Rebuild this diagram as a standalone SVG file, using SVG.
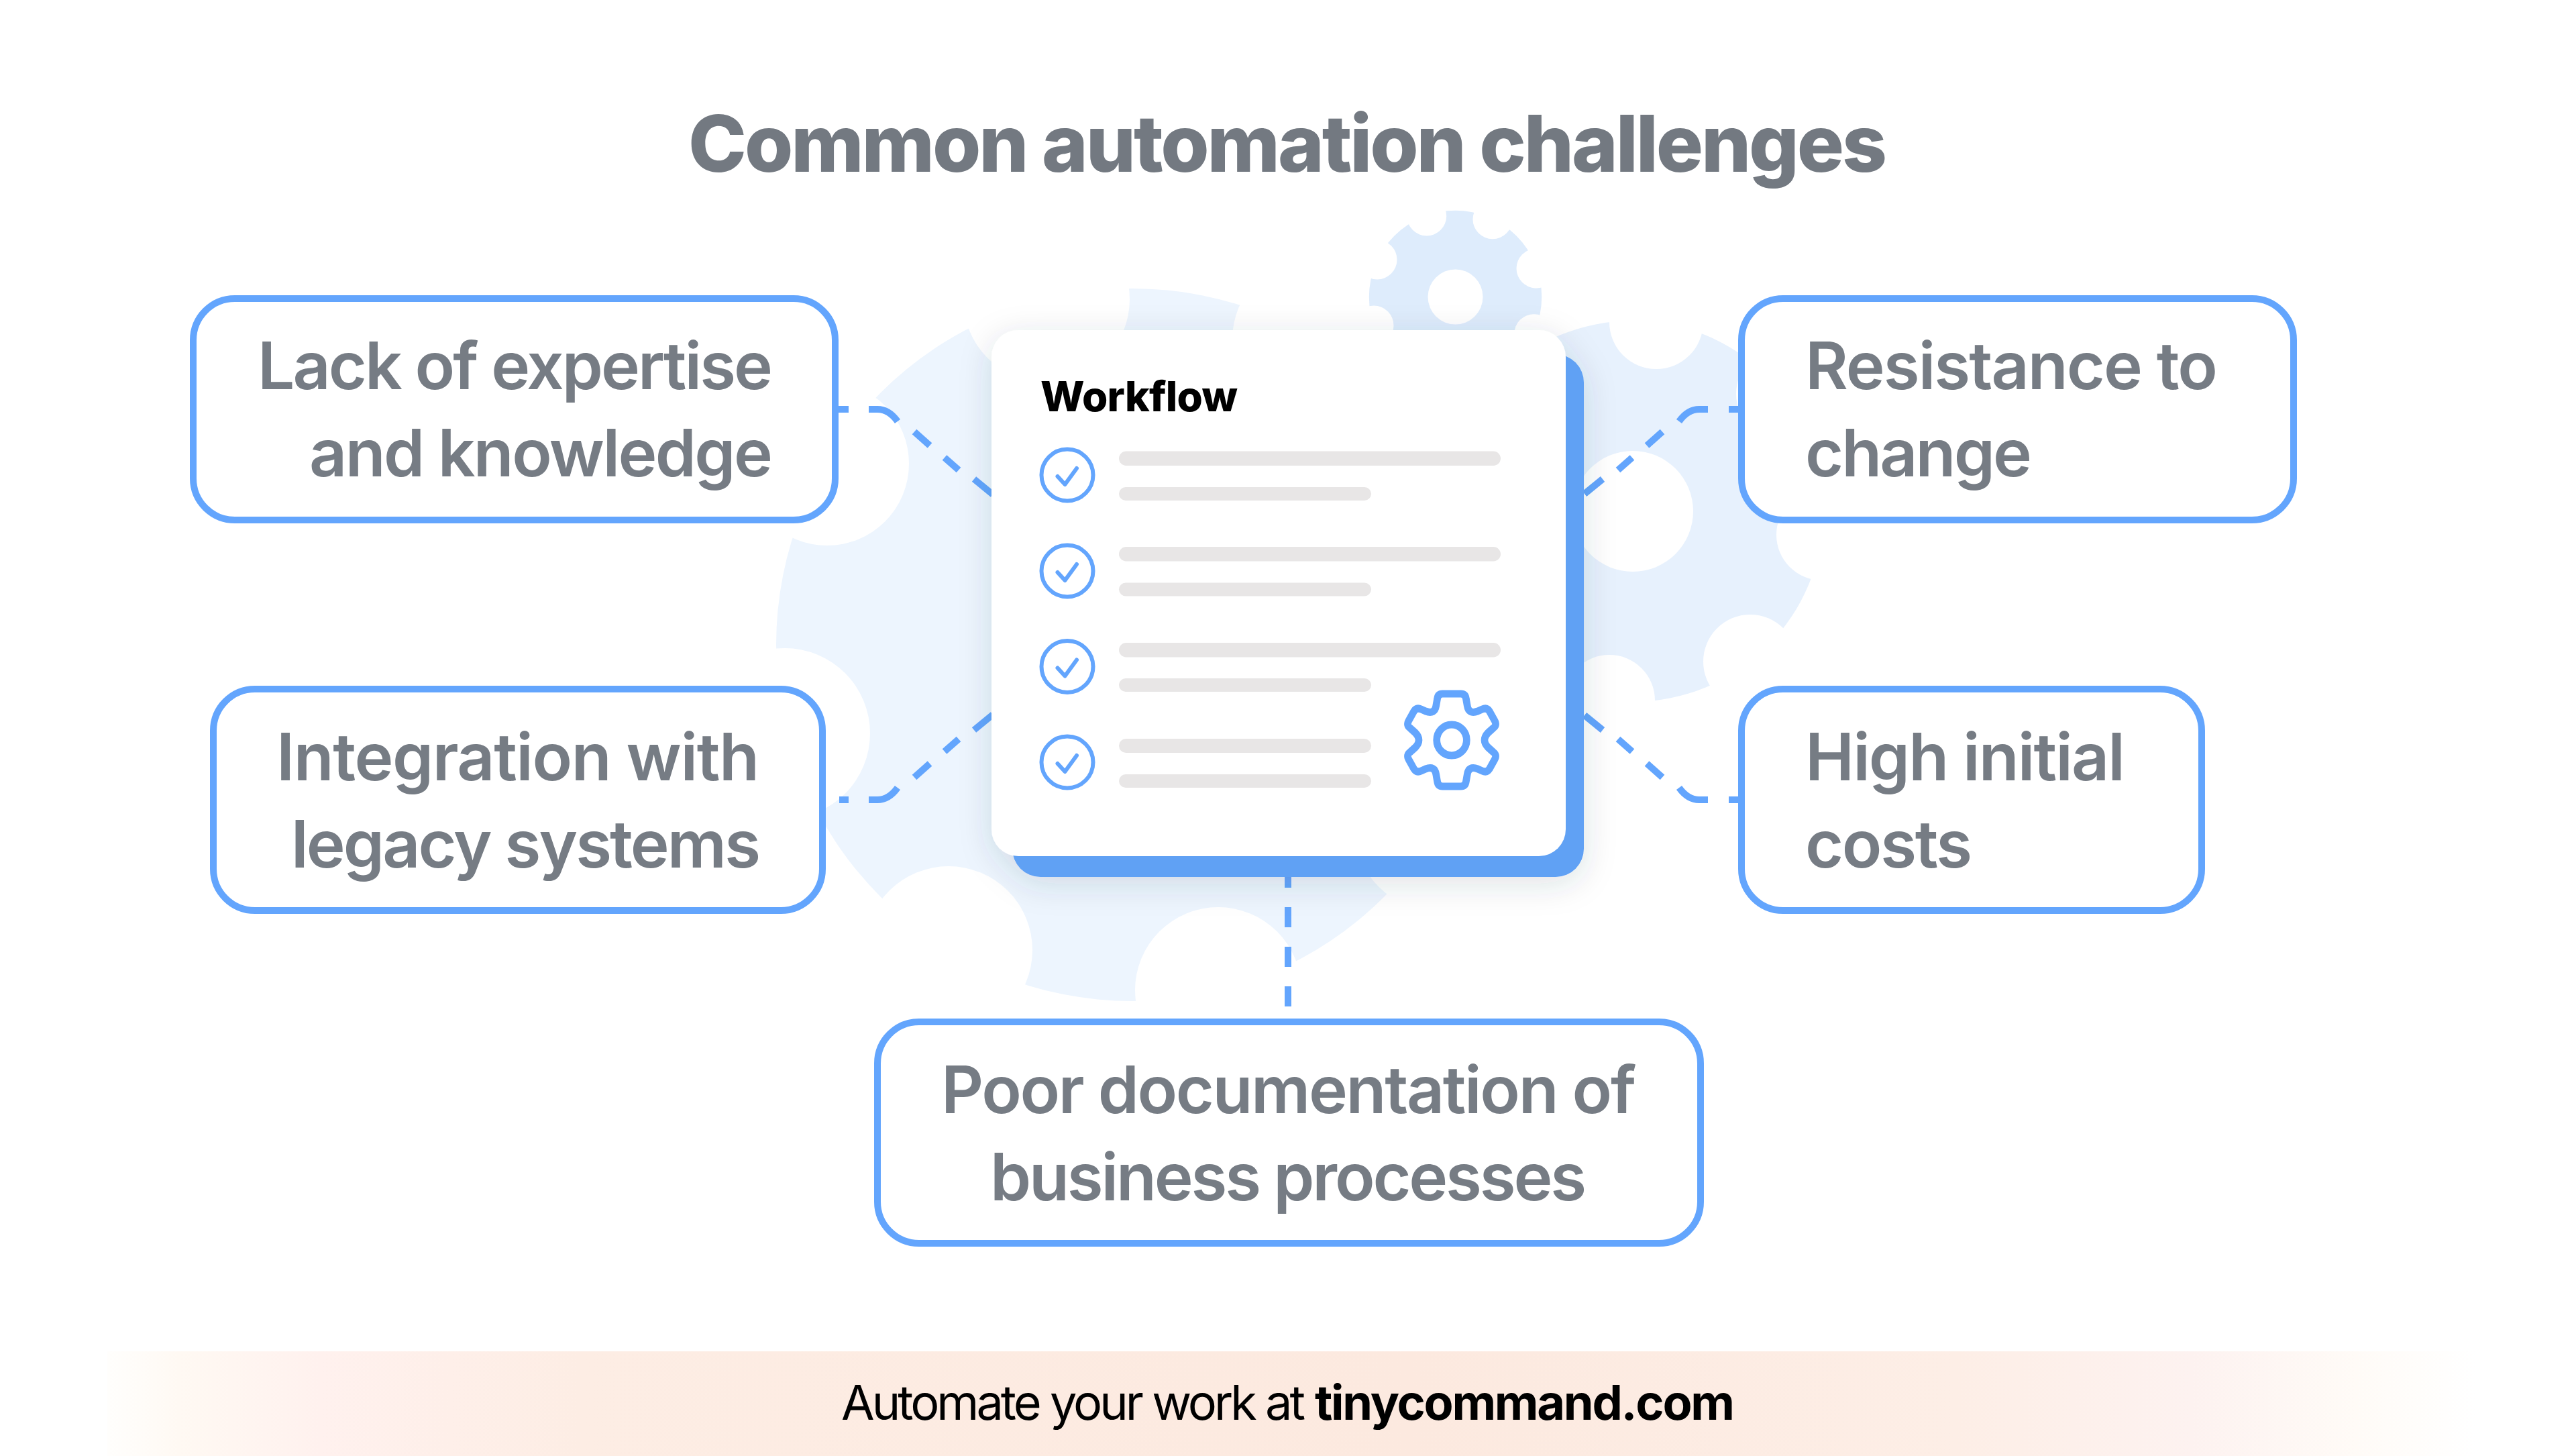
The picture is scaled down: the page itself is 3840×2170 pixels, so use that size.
<svg xmlns="http://www.w3.org/2000/svg" width="3840" height="2170" viewBox="0 0 3840 2170">
<style>
.t{font-family:"Inter","Liberation Sans",sans-serif}
.lab{font-family:"Inter","Liberation Sans",sans-serif;font-size:98px;font-weight:600;fill:#767c84}
.box{fill:#fff;stroke:#63a5fd;stroke-width:10}
.conn{fill:none;stroke:#63a5fd;stroke-width:10}
.bar{fill:#e8e6e6}
.chk{fill:none;stroke:#63a5fd;stroke-width:6}
.tick{fill:none;stroke:#63a5fd;stroke-width:6;stroke-linecap:round;stroke-linejoin:round}
.w{fill:#fff}
</style>
<defs>
<linearGradient id="band" gradientUnits="userSpaceOnUse" x1="160" y1="0" x2="3690" y2="0">
<stop offset="0" stop-color="#fffdfa" stop-opacity="0.6"/>
<stop offset="0.03" stop-color="#fff9f3"/>
<stop offset="0.09" stop-color="#fff1ee"/>
<stop offset="0.2" stop-color="#fdede4"/>
<stop offset="0.55" stop-color="#fce9df"/>
<stop offset="0.78" stop-color="#fdeee6"/>
<stop offset="0.88" stop-color="#fdf2f0"/>
<stop offset="0.95" stop-color="#fffbf7"/>
<stop offset="1" stop-color="#ffffff"/>
</linearGradient>
<filter id="sh" x="-20%" y="-20%" width="140%" height="140%">
<feDropShadow dx="0" dy="10" stdDeviation="24" flood-color="#2a3a55" flood-opacity="0.15"/>
</filter>
</defs>
<rect width="3840" height="2170" fill="#fff"/>
<rect id="footer-band" x="160" y="2014" width="3530" height="156" fill="url(#band)"/>
<g id="gears">
<g id="gear-left"><circle cx="1688" cy="961" r="531" fill="#edf5fe"/>
<g class="w"><circle cx="1233" cy="691" r="122"/><circle cx="1170" cy="1093" r="127"/><circle cx="1414" cy="1416" r="125"/><circle cx="1816" cy="1476" r="124"/><circle cx="1560" cy="446" r="124"/><circle cx="1961" cy="506" r="124"/><circle cx="2143" cy="1234" r="124"/></g></g>
<g id="gear-right"><circle cx="2434" cy="762" r="284" fill="#e7f1fd"/>
<g class="w"><circle cx="2469" cy="480" r="70"/><circle cx="2658" cy="587" r="70"/><circle cx="2716" cy="797" r="68"/><circle cx="2609" cy="986" r="70"/><circle cx="2399" cy="1044" r="68"/><circle cx="2434" cy="762" r="90"/></g></g>
<g id="gear-top"><circle cx="2169.5" cy="442.5" r="128.7" fill="#deecfc"/>
<g class="w"><circle cx="2126.7" cy="322" r="29.5"/><circle cx="2225" cy="326.7" r="29.5"/><circle cx="2290" cy="400" r="29.5"/><circle cx="2286.7" cy="497.7" r="29.5"/><circle cx="2053" cy="387" r="29.5"/><circle cx="2048" cy="485" r="29.5"/><circle cx="2169.5" cy="442.5" r="41"/></g></g>
</g>
<text id="title" class="t" x="1026" y="256" font-size="117" font-weight="800" fill="#737981" textLength="1787">Common automation challenges</text>
<g id="connectors">
<path class="conn" d="M1235,610 H1265 M1295,610 H1308 Q1325,610 1338,628 M1363,643.5 L1386,664 M1408,682 L1429,700.5 M1452,714 L1480,737"/>
<path class="conn" d="M1251,1192 H1265 M1295,1192 H1308 Q1325,1192 1338,1174 M1363,1158.5 L1386,1138 M1408,1120 L1429,1101.5 M1452,1088 L1480,1065"/>
<path class="conn" d="M2606,610 H2577 M2546,610 H2533 Q2516,610 2503,628 M2478,643.5 L2455,664 M2433,682 L2412,700.5 M2389,714 L2362,736"/>
<path class="conn" d="M2606,1192 H2577 M2546,1192 H2533 Q2516,1192 2503,1174 M2478,1158.5 L2455,1138 M2433,1120 L2412,1101.5 M2389,1088 L2362,1066"/>
<path class="conn" d="M1920,1293 V1323 M1920,1352 V1382 M1920,1411 V1441 M1920,1470 V1500"/>
</g>
<g id="workflow-card">
<g filter="url(#sh)">
<rect x="1509" y="528" width="852" height="779" rx="42" fill="#60a1f4"/>
<rect x="1478" y="492" width="856" height="784" rx="40" fill="#fff"/>
</g>
<text class="t" x="1551" y="613" font-size="62" font-weight="800" fill="#000" textLength="294">Workflow</text>
<g id="row-1"><circle class="chk" cx="1591" cy="708" r="38.5"/><path class="tick" d="M1576.5,710 L1587.5,722 L1605,698"/><rect class="bar" x="1668" y="672.5" width="569" height="21.5" rx="10.75"/><rect class="bar" x="1668" y="726" width="376" height="20" rx="10"/></g>
<g id="row-2"><circle class="chk" cx="1591" cy="851" r="38.5"/><path class="tick" d="M1576.5,853 L1587.5,865 L1605,841"/><rect class="bar" x="1668" y="815" width="569" height="21.5" rx="10.75"/><rect class="bar" x="1668" y="868.5" width="376" height="20" rx="10"/></g>
<g id="row-3"><circle class="chk" cx="1591" cy="993.5" r="38.5"/><path class="tick" d="M1576.5,995.5 L1587.5,1007.5 L1605,983.5"/><rect class="bar" x="1668" y="958" width="569" height="21.5" rx="10.75"/><rect class="bar" x="1668" y="1011" width="376" height="20" rx="10"/></g>
<g id="row-4"><circle class="chk" cx="1591" cy="1136" r="38.5"/><path class="tick" d="M1576.5,1138 L1587.5,1150 L1605,1126"/><rect class="bar" x="1668" y="1101" width="376" height="21" rx="10.5"/><rect class="bar" x="1668" y="1154" width="376" height="20" rx="10"/></g>
<g id="gear-icon" transform="translate(2164 1103) scale(.97 1)" fill="none" stroke="#63a5fd" stroke-width="11" stroke-linejoin="round">
<circle r="23"/>
<path d="M-14,-69 H14 Q21,-69 22,-62 L24,-51 Q26,-38 40,-43 L47,-46 Q54,-49 58,-43 L66,-29 Q70,-22 64,-18 L56,-11 Q45,0 56,11 L64,18 Q70,22 66,29 L58,43 Q54,49 47,46 L40,43 Q26,38 24,51 L22,62 Q21,69 14,69 H-14 Q-21,69 -22,62 L-24,51 Q-26,38 -40,43 L-47,46 Q-54,49 -58,43 L-66,29 Q-70,22 -64,18 L-56,11 Q-45,0 -56,-11 L-64,-18 Q-70,-22 -66,-29 L-58,-43 Q-54,-49 -47,-46 L-40,-43 Q-26,-38 -24,-51 L-22,-62 Q-21,-69 -14,-69 Z"/>
</g>
</g>
<g id="node-expertise"><rect class="box" x="288" y="445" width="957" height="330" rx="62"/>
<text class="lab" x="384" y="580" textLength="768">Lack of expertise</text><text class="lab" x="461" y="710" textLength="691">and knowledge</text></g>
<g id="node-integration"><rect class="box" x="318" y="1027" width="908" height="330" rx="62"/>
<text class="lab" x="412" y="1163" textLength="720">Integration with</text><text class="lab" x="434" y="1293" textLength="700">legacy systems</text></g>
<g id="node-resistance"><rect class="box" x="2596" y="445" width="823" height="330" rx="62"/>
<text class="lab" x="2691" y="580" textLength="615">Resistance to</text><text class="lab" x="2691" y="710" textLength="338">change</text></g>
<g id="node-costs"><rect class="box" x="2596" y="1027" width="686" height="330" rx="62"/>
<text class="lab" x="2691" y="1163" textLength="477">High initial</text><text class="lab" x="2691" y="1293" textLength="249">costs</text></g>
<g id="node-documentation"><rect class="box" x="1308" y="1523" width="1227" height="330" rx="62"/>
<text class="lab" x="1403" y="1659" textLength="1036">Poor documentation of</text><text class="lab" x="1476" y="1789" textLength="889">business processes</text></g>
<text id="footer" class="t" y="2116" font-size="72" fill="#000"><tspan x="1254" textLength="692">Automate your work at</tspan> <tspan x="1960" textLength="626" font-weight="700">tinycommand.com</tspan></text>
</svg>
